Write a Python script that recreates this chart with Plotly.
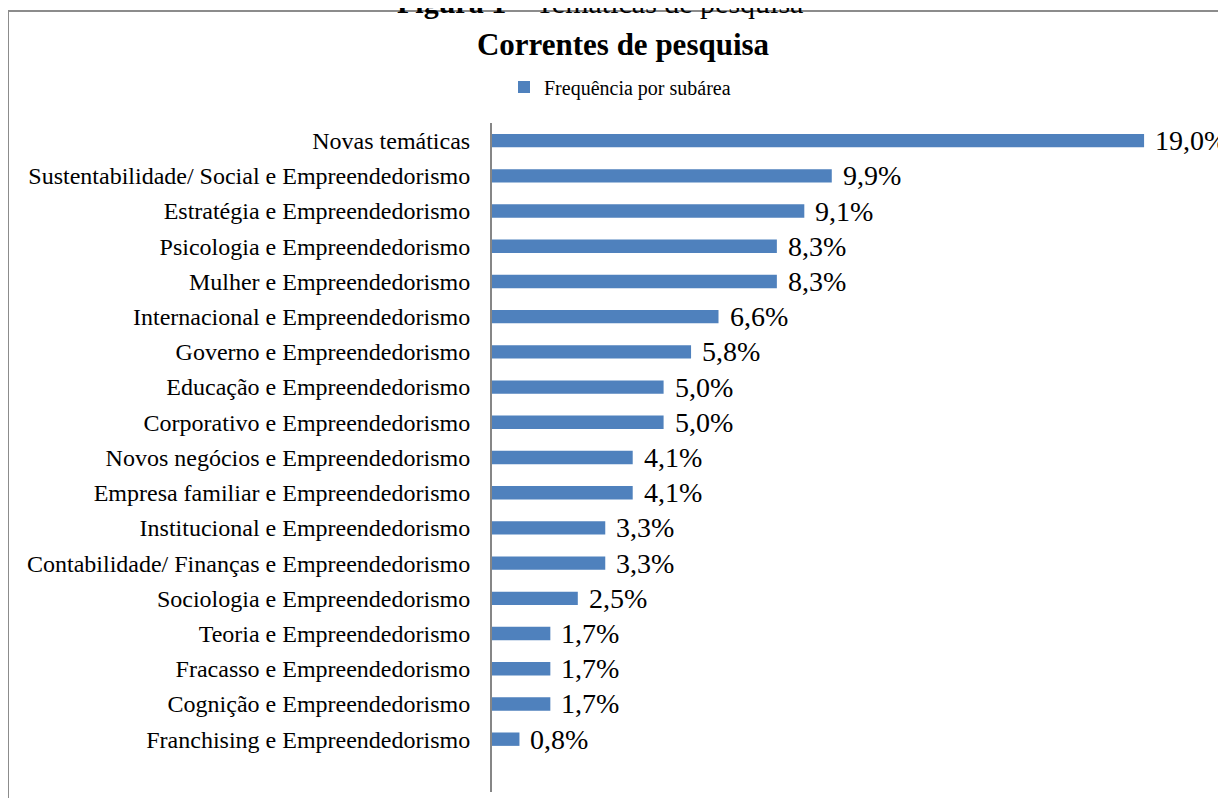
import plotly.graph_objects as go

categories = [
    "Franchising e Empreendedorismo",
    "Cognição e Empreendedorismo",
    "Fracasso e Empreendedorismo",
    "Teoria e Empreendedorismo",
    "Sociologia e Empreendedorismo",
    "Contabilidade/ Finanças e Empreendedorismo",
    "Institucional e Empreendedorismo",
    "Empresa familiar e Empreendedorismo",
    "Novos negócios e Empreendedorismo",
    "Corporativo e Empreendedorismo",
    "Educação e Empreendedorismo",
    "Governo e Empreendedorismo",
    "Internacional e Empreendedorismo",
    "Mulher e Empreendedorismo",
    "Psicologia e Empreendedorismo",
    "Estratégia e Empreendedorismo",
    "Sustentabilidade/ Social e Empreendedorismo",
    "Novas temáticas",
]
values = [0.8, 1.7, 1.7, 1.7, 2.5, 3.3, 3.3, 4.1, 4.1, 5.0, 5.0, 5.8, 6.6, 8.3, 8.3, 9.1, 9.9, 19.0]
series_name = "Frequência por subárea"
chart_title = "Correntes de pesquisa"
figure_caption = "<b>Figura 1</b> – Temáticas de pesquisa"

FONT = "Liberation Serif, Times New Roman, serif"
W, H = 1218, 790          # page body has an 8px margin
L, T, B = 484, 115, 6
plot_w = W - L
plot_h = H - T - B

fig = go.Figure()
fig.add_trace(go.Bar(
    x=values, y=categories, orientation="h", name=series_name,
    marker=dict(color="#4F81BD", line=dict(width=0)),
    showlegend=True,
))

for v, c in zip(values, categories):
    fig.add_annotation(x=v, y=c, xref="x", yref="y",
                       text=f"{v:.1f}%".replace(".", ","),
                       xanchor="left", yanchor="middle", xshift=9,
                       showarrow=False,
                       font=dict(family=FONT, size=28, color="#000000"))

fig.update_layout(
    width=W, height=H,
    margin=dict(l=L, r=0, t=T, b=B),
    paper_bgcolor="white", plot_bgcolor="white",
    separators=",.",
    bargap=0.62,
    font=dict(family=FONT, color="#000000"),
    title=dict(text="<b>" + chart_title + "</b>", x=615 / W, xanchor="center",
               y=1 - 36 / H, yanchor="middle", yref="container",
               font=dict(family=FONT, size=31, color="#000000")),
    legend=dict(orientation="h", xref="container", x=612 / W, xanchor="center",
                yref="container", y=1 - 79 / H, yanchor="middle",
                font=dict(family=FONT, size=20, color="#000000"),
                itemwidth=30),
    xaxis=dict(range=[0, plot_w / 34.32], showgrid=False, zeroline=False,
               showticklabels=False, showline=False, fixedrange=True),
    yaxis=dict(type="category", range=[-1.5, 17.5], showgrid=False,
               showline=True, linecolor="#868686", linewidth=2,
               ticks="", ticklabelstandoff=15,
               tickfont=dict(family=FONT, size=24, color="#000000")),
)

# outer chart frame (extends beyond right/bottom edges)
fig.add_shape(type="rect", xref="paper", yref="paper",
              x0=(0 - L) / plot_w, x1=1.05,
              y0=-0.05, y1=1 + (T - 3) / plot_h,
              line=dict(color="#8C8C8C", width=2), fillcolor="rgba(0,0,0,0)",
              layer="below")

fig.add_annotation(text=figure_caption, xref="paper", yref="paper",
                   x=(592 - L) / plot_w, y=1, xanchor="center", yanchor="bottom",
                   yshift=T - 13, showarrow=False,
                   font=dict(family=FONT, size=30, color="#000000"))

fig.write_html("out.html")
